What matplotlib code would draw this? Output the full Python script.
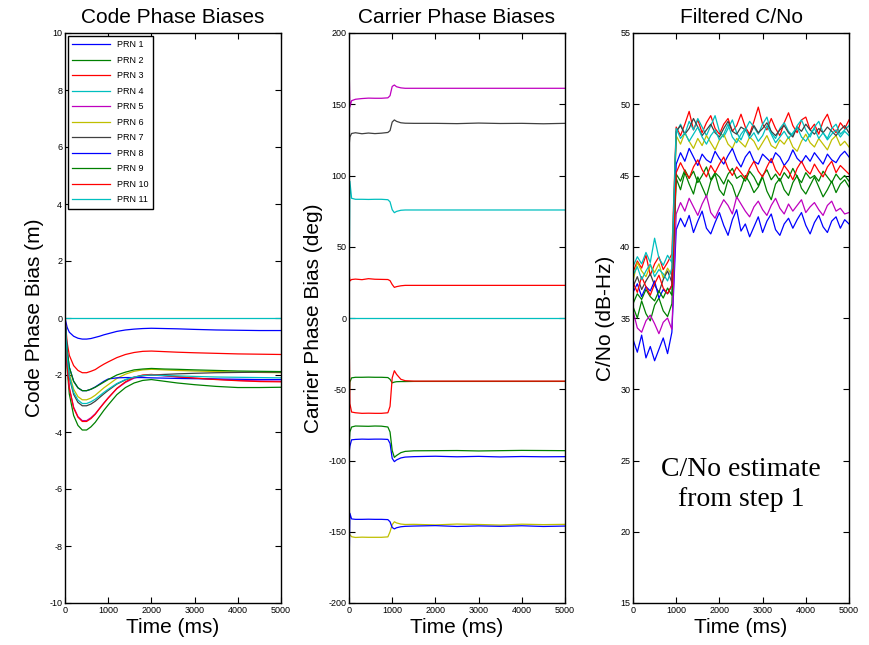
import matplotlib
matplotlib.use("Agg")
import matplotlib.pyplot as plt

plt.rcParams['font.family'] = ['Liberation Sans', 'DejaVu Sans']
plt.rcParams['axes.unicode_minus'] = False

prn_labels = ['PRN 1', 'PRN 2', 'PRN 3', 'PRN 4', 'PRN 5', 'PRN 6',
              'PRN 7', 'PRN 8', 'PRN 9', 'PRN 10', 'PRN 11']
prn_colors = ['#0000ff', '#008000', '#ff0000', '#00bfbf', '#bf00bf', '#bfbf00',
              '#404040', '#0000ff', '#008000', '#ff0000', '#00bfbf']

# ---------------- Code phase biases (m) ----------------
t_code = [0, 50, 100, 200, 300, 400, 500, 600, 700, 800, 900, 1000, 1200, 1400,
          1600, 1800, 2000, 2300, 2600, 3000, 3500, 4000, 4500, 5000]
code_prn1 = [0, -0.33, -0.50, -0.64, -0.71, -0.74, -0.74, -0.72, -0.68, -0.64, -0.59, -0.55,
             -0.47, -0.42, -0.39, -0.37, -0.36, -0.37, -0.38, -0.40, -0.42, -0.43, -0.44, -0.44]
code_prn2 = [0, -1.77, -2.67, -3.42, -3.77, -3.93, -3.93, -3.82, -3.66, -3.45, -3.24, -3.05,
             -2.69, -2.44, -2.28, -2.19, -2.16, -2.22, -2.28, -2.34, -2.40, -2.44, -2.44, -2.43]
code_prn3 = [0, -0.86, -1.31, -1.67, -1.84, -1.92, -1.92, -1.87, -1.81, -1.71, -1.62, -1.54,
             -1.39, -1.28, -1.21, -1.17, -1.16, -1.18, -1.20, -1.22, -1.24, -1.26, -1.27, -1.28]
code_prn4 = [0, 0, 0, 0, 0, 0, 0, 0, 0, 0, 0, 0, 0, 0, 0, 0, 0, 0, 0, 0, 0, 0, 0, 0]
code_prn5 = [0, -1.62, -2.45, -3.13, -3.46, -3.60, -3.60, -3.50, -3.36, -3.17, -2.98, -2.80,
             -2.48, -2.26, -2.11, -2.03, -2.00, -2.03, -2.07, -2.11, -2.15, -2.19, -2.21, -2.22]
code_prn6 = [0, -1.29, -1.95, -2.50, -2.76, -2.87, -2.87, -2.81, -2.71, -2.58, -2.45, -2.34,
             -2.12, -1.97, -1.87, -1.82, -1.80, -1.82, -1.84, -1.86, -1.88, -1.90, -1.91, -1.92]
code_prn7 = [0, -1.39, -2.09, -2.68, -2.96, -3.08, -3.08, -3.02, -2.92, -2.79, -2.66, -2.54,
             -2.32, -2.17, -2.08, -2.02, -2.00, -1.98, -1.96, -1.94, -1.92, -1.91, -1.90, -1.90]
code_prn8 = [0, -1.15, -1.73, -2.22, -2.45, -2.55, -2.55, -2.50, -2.42, -2.32, -2.22, -2.14,
             -2.10, -2.09, -2.09, -2.09, -2.10, -2.11, -2.12, -2.13, -2.14, -2.15, -2.16, -2.16]
code_prn9 = [0, -1.15, -1.73, -2.22, -2.45, -2.55, -2.55, -2.50, -2.43, -2.34, -2.25, -2.16,
             -2.00, -1.90, -1.82, -1.79, -1.77, -1.79, -1.80, -1.82, -1.84, -1.86, -1.87, -1.88]
code_prn10 = [0, -1.63, -2.47, -3.16, -3.48, -3.63, -3.63, -3.53, -3.38, -3.18, -2.99, -2.81,
              -2.47, -2.24, -2.08, -2.00, -1.98, -2.02, -2.06, -2.11, -2.16, -2.20, -2.23, -2.24]
code_prn11 = [0, -1.35, -2.04, -2.61, -2.88, -3.00, -3.00, -2.94, -2.85, -2.73, -2.61, -2.50,
              -2.30, -2.16, -2.07, -2.02, -2.00, -2.02, -2.03, -2.05, -2.07, -2.08, -2.09, -2.10]
code_series = [code_prn1, code_prn2, code_prn3, code_prn4, code_prn5, code_prn6,
               code_prn7, code_prn8, code_prn9, code_prn10, code_prn11]

# ---------------- Carrier phase biases (deg) ----------------
t_carr = [0, 20, 60, 150, 300, 450, 600, 750, 900, 950, 1000, 1050, 1100, 1200, 1300,
          1500, 2000, 2500, 3000, 3500, 4000, 4500, 5000]
carr_prn1 = [-95, -90, -85.5, -85.2, -85.0, -85.1, -85.0, -85.0, -85.2, -88, -98.5, -100.8,
             -99.6, -98.2, -97.6, -97.3, -97.0, -97.4, -97.1, -97.5, -97.2, -97.4, -97.3]
carr_prn2 = [-90, -80, -76.5, -75.8, -75.9, -76.0, -75.8, -75.9, -76.5, -80, -93, -97.8,
             -96.5, -94.5, -93.6, -93.2, -93.1, -93.0, -93.3, -93.1, -92.9, -93.0, -93.1]
carr_prn3 = [32, 26, 27.0, 27.3, 26.9, 27.6, 27.2, 27.1, 27.0, 26.2, 23.5, 21.5,
             22.0, 22.6, 22.9, 22.9, 22.9, 22.9, 22.9, 22.9, 22.9, 22.9, 22.9]
carr_prn4 = [0, 0, 0, 0, 0, 0, 0, 0, 0, 0, 0, 0, 0, 0, 0, 0, 0, 0, 0, 0, 0, 0, 0]
carr_prn5 = [181, 148, 152.5, 153.5, 154.0, 154.3, 154.2, 154.2, 154.5, 156, 162.5, 163.5,
             162.3, 161.5, 161.2, 161.2, 161.2, 161.2, 161.2, 161.2, 161.2, 161.2, 161.2]
carr_prn6 = [-150, -152, -153.5, -154.0, -153.8, -153.9, -153.9, -153.9, -153.6, -150, -145, -143.0,
             -143.8, -144.6, -144.9, -144.8, -145.2, -144.6, -144.9, -145.3, -144.7, -145.0, -144.8]
carr_prn7 = [120, 127, 129.5, 130.0, 129.3, 129.8, 129.4, 129.7, 130.2, 131.5, 137.5, 139.0,
             138.0, 137.0, 136.7, 136.6, 136.6, 136.4, 136.8, 136.5, 136.6, 136.3, 136.6]
carr_prn8 = [-180, -137, -141.0, -141.3, -141.3, -141.2, -141.3, -141.3, -141.5, -143, -147, -148.0,
             -147.2, -146.5, -146.2, -146.0, -145.7, -146.3, -145.9, -146.2, -145.8, -146.3, -146.0]
carr_prn9 = [-60, -45, -42.0, -41.6, -41.6, -41.5, -41.6, -41.6, -41.8, -43, -45.5, -45.0,
             -44.7, -44.6, -44.6, -44.5, -44.5, -44.5, -44.5, -44.5, -44.5, -44.5, -44.5]
carr_prn10 = [0, -60, -66.0, -66.5, -66.9, -66.8, -66.9, -66.9, -66.5, -62, -42, -37.0,
              -39.5, -43.0, -44.0, -44.3, -44.3, -44.3, -44.3, -44.3, -44.3, -44.3, -44.3]
carr_prn11 = [0, 96, 84.0, 83.3, 83.3, 83.2, 83.3, 83.3, 83.0, 81.5, 76.0, 73.9,
              74.8, 75.6, 75.8, 75.8, 75.8, 75.8, 75.8, 75.8, 75.8, 75.8, 75.8]
carr_series = [carr_prn1, carr_prn2, carr_prn3, carr_prn4, carr_prn5, carr_prn6,
               carr_prn7, carr_prn8, carr_prn9, carr_prn10, carr_prn11]

# ---------------- Filtered C/No (dB-Hz) ----------------
t_cn = list(range(0, 5001, 100))
cn_prn1 = [33.5, 32.6, 33.8, 32.2, 33.0, 32.0, 32.8, 33.6, 32.5, 34.0,
           41.2, 42.0, 41.4, 42.2, 41.0, 41.8, 42.5, 41.3, 40.9, 41.7,
           42.4, 41.5, 40.8, 41.9, 42.6, 41.1, 41.6, 40.7, 41.4, 42.1,
           41.0, 41.8, 42.3, 41.2, 40.8, 41.6, 42.0, 41.3, 41.9, 42.4,
           41.5, 40.9, 41.7, 42.2, 41.4, 41.0, 41.8, 42.1, 41.3, 41.9, 41.6]
cn_prn2 = [35.8, 35.0, 36.2, 35.3, 34.8, 35.9, 36.4, 35.5, 35.1, 36.0,
           44.8, 44.0, 45.2, 44.4, 43.7, 44.9, 44.2, 43.5, 44.6, 45.1,
           44.0, 43.6, 44.7, 44.3, 43.4, 44.1, 45.0, 44.5, 43.8, 44.2,
           44.9, 43.9, 43.3, 44.4, 44.8, 44.0, 43.6, 44.5, 45.0, 44.1,
           43.7, 44.3, 44.9, 44.2, 43.5, 44.0, 44.6, 43.8, 44.4, 44.7, 44.2]
cn_prn3 = [38.2, 39.0, 38.5, 39.4, 38.0, 38.8, 39.3, 38.4, 38.9, 39.5,
           48.4, 47.8, 48.6, 49.5, 48.2, 48.9, 48.0, 48.7, 49.2, 48.3,
           47.9, 48.6, 49.0, 48.1, 48.5, 49.3, 48.4, 47.9, 48.8, 49.8,
           48.6, 48.2, 49.0, 48.3, 47.8, 48.7, 49.4, 48.5, 48.0, 48.9,
           49.1, 48.2, 48.6, 47.9, 48.8, 49.3, 48.4, 48.0, 48.7, 48.3, 48.9]
cn_prn4 = [38.6, 39.3, 38.8, 39.6, 38.9, 40.6, 39.2, 38.7, 39.4, 38.9,
           48.0, 48.6, 47.9, 48.8, 48.2, 49.0, 48.4, 47.8, 48.5, 49.2,
           48.1, 47.7, 48.3, 48.9, 48.0, 47.5, 48.2, 48.8, 48.4, 47.9,
           48.6, 49.1, 48.0, 47.6, 48.3, 48.7, 48.1, 47.8, 48.5, 48.9,
           48.2, 47.7, 48.4, 48.8, 48.0, 47.6, 48.3, 48.6, 47.9, 48.2, 48.5]
cn_prn5 = [35.5, 34.3, 34.0, 34.8, 35.2, 34.6, 33.9, 34.7, 35.0, 34.2,
           42.3, 43.1, 42.5, 43.4, 42.8, 42.2, 43.0, 43.6, 42.4, 42.0,
           42.7, 43.3, 42.9, 42.3, 43.5, 43.0, 42.5, 42.1, 42.8, 43.2,
           42.6, 42.2, 42.9, 43.4, 42.7, 42.3, 43.0, 42.5, 42.9, 43.3,
           42.4, 42.8, 43.1, 42.6, 42.2, 42.9, 43.2, 42.5, 42.7, 42.3, 42.4]
cn_prn6 = [37.6, 38.9, 38.3, 37.9, 38.7, 38.2, 38.8, 37.8, 38.5, 38.0,
           47.8, 47.2, 48.0, 47.4, 46.9, 47.6, 47.1, 47.8, 47.3, 46.8,
           47.5, 47.9, 47.2, 46.9, 47.6, 47.3, 47.0, 47.7, 47.4, 46.8,
           47.3, 47.8, 47.1, 46.9, 47.5, 47.2, 47.7, 47.0, 46.7, 47.4,
           47.9, 47.3, 47.0, 47.6, 47.2, 46.8, 47.5, 47.8, 47.1, 47.4, 47.0]
cn_prn7 = [37.2, 37.9, 37.0, 37.6, 38.1, 37.3, 36.8, 37.7, 38.3, 37.5,
           48.1, 48.5, 47.9, 48.3, 49.0, 48.4, 47.8, 48.2, 48.6, 48.0,
           47.7, 48.3, 48.8, 48.1, 47.9, 48.4, 48.2, 47.8, 48.5, 48.0,
           48.3, 48.7, 48.1, 47.8, 48.2, 48.5, 48.0, 47.7, 48.4, 48.1,
           48.6, 48.2, 47.9, 48.3, 48.0, 48.4, 48.1, 47.8, 48.2, 48.5, 48.0]
cn_prn8 = [36.8, 37.4, 36.5, 37.2, 36.9, 37.6, 36.4, 37.0, 36.7, 37.3,
           45.8, 46.6, 46.0, 46.9, 46.3, 45.7, 46.5, 46.1, 45.9, 46.7,
           46.2, 45.8, 46.4, 46.9, 46.1, 45.6, 46.3, 46.7, 46.0, 45.8,
           46.5, 46.2, 45.9, 46.6, 46.3, 45.7, 46.1, 46.8, 46.2, 45.9,
           46.4, 46.0, 46.6, 46.2, 45.8, 46.5, 46.1, 45.9, 46.4, 46.7, 46.3]
cn_prn9 = [36.0, 36.7, 36.3, 37.0, 36.5, 36.2, 36.9, 36.4, 37.1, 36.6,
           45.1, 44.6, 45.4, 44.8, 45.3, 44.5, 45.0, 45.6, 44.7, 45.2,
           44.9, 44.4, 45.1, 45.5, 44.8, 45.0, 44.6, 45.3, 44.9, 44.3,
           45.0, 45.4, 44.7, 45.1, 44.6, 45.2, 44.8, 45.5, 44.9, 44.5,
           45.2, 44.8, 45.0, 44.6, 45.3, 44.9, 44.5, 45.1, 44.7, 45.0, 44.6]
cn_prn10 = [37.5, 36.8, 37.9, 37.2, 36.6, 37.4, 38.0, 37.1, 36.7, 37.3,
            45.2, 45.9, 45.3, 44.8, 45.6, 46.1, 45.4, 44.9, 45.7, 45.2,
            45.8, 46.3, 45.5, 45.0, 45.6, 45.2, 44.8, 45.5, 46.0, 45.3,
            44.9, 45.6, 46.2, 45.4, 45.0, 45.7, 45.3, 44.7, 45.5, 46.0,
            45.4, 45.1, 45.8, 45.3, 44.9, 45.6, 46.0, 45.2, 45.7, 45.4, 45.1]
cn_prn11 = [38.0, 38.6, 37.7, 38.3, 38.8, 37.9, 38.4, 38.1, 37.6, 38.5,
            48.3, 47.6, 48.0, 47.4, 47.9, 48.4, 47.7, 47.2, 47.8, 48.2,
            47.5, 47.9, 48.6, 47.7, 47.3, 47.9, 48.3, 47.6, 48.0, 47.4,
            47.8, 48.5, 47.9, 47.3, 47.7, 48.1, 47.6, 48.0, 48.4, 47.7,
            47.4, 47.9, 48.3, 47.6, 48.0, 47.5, 47.9, 48.2, 47.7, 48.1, 47.8]
cn_series = [cn_prn1, cn_prn2, cn_prn3, cn_prn4, cn_prn5, cn_prn6,
             cn_prn7, cn_prn8, cn_prn9, cn_prn10, cn_prn11]

titles = ['Code Phase Biases', 'Carrier Phase Biases', 'Filtered C/No']
ylabels = ['Code Phase Bias (m)', 'Carrier Phase Bias (deg)', 'C/No (dB-Hz)']
xticks = [0, 1000, 2000, 3000, 4000, 5000]
ylims = [(-10, 10), (-200, 200), (15, 55)]
yticks = [list(range(-10, 11, 2)), list(range(-200, 201, 50)), list(range(15, 56, 5))]

fig = plt.figure(figsize=(8.69, 6.45), dpi=100)
W, H = 869, 645
lefts = [65, 349, 633]
axes = []
for i, lx in enumerate(lefts):
    ax = fig.add_axes([lx / W, (H - 603) / H, 216 / W, 570 / H])
    axes.append(ax)

data = [(t_code, code_series), (t_carr, carr_series), (t_cn, cn_series)]
for i, ax in enumerate(axes):
    tt, series = data[i]
    for k, ys in enumerate(series):
        ax.plot(tt, ys, color=prn_colors[k], lw=0.9, label=prn_labels[k])
    ax.set_xlim(0, 5000)
    ax.set_ylim(*ylims[i])
    ax.set_xticks(xticks)
    ax.set_yticks(yticks[i])
    ax.tick_params(direction='in', top=True, right=True, labelsize=6.5,
                   length=4, width=0.8, pad=2)
    for sp in ax.spines.values():
        sp.set_linewidth(1.0)
    ax.set_title(titles[i], fontsize=15, pad=7)
    ax.set_xlabel('Time (ms)', fontsize=15, labelpad=2)
    ax.set_ylabel(ylabels[i], fontsize=15, labelpad=4)

leg = axes[0].legend(loc='upper left', fontsize=6.5, handlelength=4.2,
                     labelspacing=0.72, fancybox=False, framealpha=1,
                     edgecolor='black', borderpad=0.5, borderaxespad=0.3)
leg.get_frame().set_linewidth(1.0)

axes[2].text(2500, 23.3, 'C/No estimate\nfrom step 1', ha='center', va='center',
             fontsize=20, family=['Liberation Serif', 'DejaVu Serif'], linespacing=1.25)

fig.savefig('out.png', dpi=100)
